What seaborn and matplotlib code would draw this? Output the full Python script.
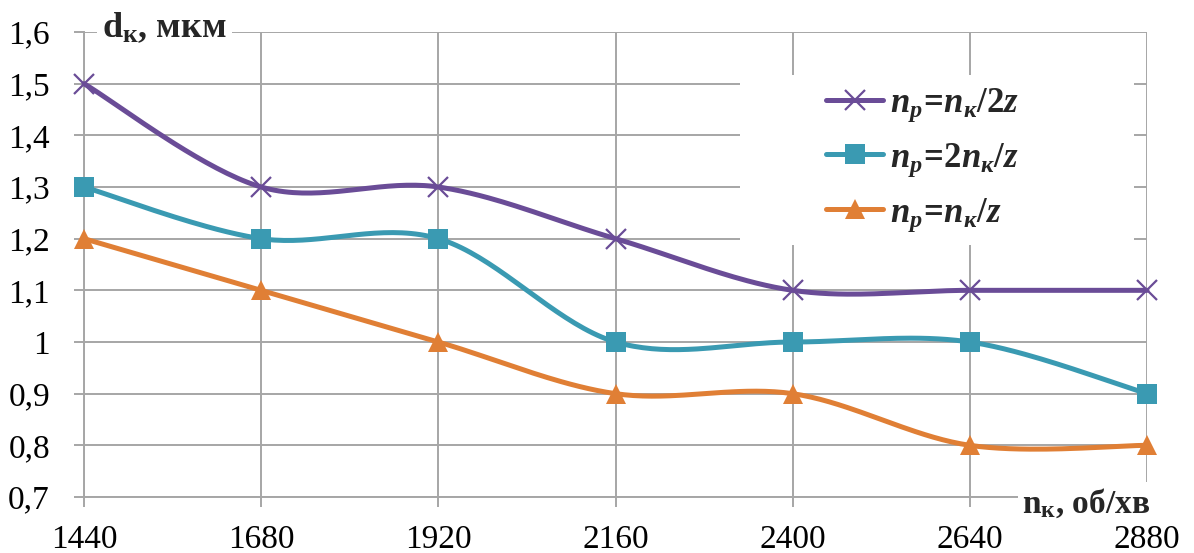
import numpy as np
import pandas as pd
import matplotlib
matplotlib.use("Agg")
import matplotlib.pyplot as plt
from matplotlib.lines import Line2D
from matplotlib.patches import Rectangle
import seaborn as sns

# ---- data ----
x_vals = [1440, 1680, 1920, 2160, 2400, 2640, 2880]
s_half = [1.5, 1.3, 1.3, 1.2, 1.1, 1.1, 1.1]     # n_p = n_k/2z
s_two = [1.3, 1.2, 1.2, 1.0, 1.0, 1.0, 0.9]      # n_p = 2n_k/z
s_one = [1.2, 1.1, 1.0, 0.9, 0.9, 0.8, 0.8]      # n_p = n_k/z
y_ticks = [0.7, 0.8, 0.9, 1.0, 1.1, 1.2, 1.3, 1.4, 1.5, 1.6]
y_tick_labels = ["0,7", "0,8", "0,9", "1", "1,1", "1,2", "1,3", "1,4", "1,5", "1,6"]
labels = [r"$n_p\!=\!n_к/2z$", r"$n_p\!=\!2n_к/z$", r"$n_p\!=\!n_к/z$"]

sns.set_theme(style="white")
plt.rcParams["font.family"] = ["Liberation Serif", "DejaVu Serif"]
plt.rcParams["font.serif"] = ["Liberation Serif", "DejaVu Serif"]
plt.rcParams["mathtext.fontset"] = "custom"
plt.rcParams["mathtext.it"] = "Liberation Serif:italic:bold"
plt.rcParams["mathtext.rm"] = "Liberation Serif:bold"
plt.rcParams["mathtext.bf"] = "Liberation Serif:bold"

colors = ["#6A4C97", "#3A9AB2", "#E07F35"]
markers = ["x", "s", "^"]
msizes = [15, 14.5, 14]
W, H = 1194, 553

def smooth(xs, ys, n=40):
    xs = np.asarray(xs, float); ys = np.asarray(ys, float)
    P = np.column_stack([xs, ys])
    out = []
    for i in range(len(P) - 1):
        p0 = P[i - 1] if i > 0 else P[i]
        p1 = P[i]; p2 = P[i + 1]
        p3 = P[i + 2] if i + 2 < len(P) else P[i + 1]
        c1 = p1 + (p2 - p0) / 6.0
        c2 = p2 - (p3 - p1) / 6.0
        t = np.linspace(0, 1, n)[:, None]
        seg = ((1 - t) ** 3) * p1 + 3 * ((1 - t) ** 2) * t * c1 + 3 * (1 - t) * t ** 2 * c2 + t ** 3 * p2
        out.append(seg if i == 0 else seg[1:])
    a = np.vstack(out)
    return a[:, 0], a[:, 1]

fig = plt.figure(figsize=(W / 100, H / 100), dpi=100)
ax = fig.add_axes([84 / W, 1 - 497 / H, (1147 - 84) / W, (497 - 32) / H])

series = [s_half, s_two, s_one]
for ys, c, m, ms in zip(series, colors, markers, msizes):
    sx, sy = smooth(x_vals, ys)
    ax.plot(sx, sy, color=c, lw=3.6, solid_capstyle="round", zorder=3, clip_on=False)
    df = pd.DataFrame({"x": x_vals, "y": ys})
    sns.lineplot(data=df, x="x", y="y", ax=ax, color=c, marker=m, markersize=ms,
                 linestyle="none", markeredgewidth=(1.6 if m == "x" else 0),
                 markeredgecolor=c, zorder=4, clip_on=False)

ax.set_xlim(1440, 2880)
ax.set_ylim(0.7, 1.6)
ax.set_xticks(x_vals)
ax.set_xticklabels([str(v) for v in x_vals], fontsize=24, fontfamily="Liberation Serif")
ax.set_yticks(y_ticks)
ax.set_yticklabels(y_tick_labels, fontsize=24, fontfamily="Liberation Serif")
ax.set_xlabel(""); ax.set_ylabel("")
ax.grid(True, color="#A6A6A6", lw=1.4)
for s in ["top", "right"]:
    ax.spines[s].set_visible(False)
for s in ["left", "bottom"]:
    ax.spines[s].set_color("#A6A6A6")
    ax.spines[s].set_linewidth(1.4)
ax.tick_params(axis="both", direction="out", length=7.5, width=1.4, color="#A6A6A6",
               colors="black", left=True, bottom=True)
ax.tick_params(axis="y", pad=17)
ax.tick_params(axis="x", pad=12)

# white legend area
fig.patches.append(Rectangle((740 / W, 1 - 245 / H), (1134 - 740) / W, (245 - 75) / H,
                             transform=fig.transFigure, facecolor="white",
                             edgecolor="none", zorder=2))
ax.set_zorder(1); ax.patch.set_alpha(0)
handles = [Line2D([0], [0], color=c, lw=3.6, marker=m, markersize=ms,
                  markeredgewidth=(1.6 if m == "x" else 0), markeredgecolor=c,
                  solid_capstyle="round")
           for c, m, ms in zip(colors, markers, msizes)]
leg = fig.legend(handles, labels, loc="center left",
                 bbox_to_anchor=(826 / W, 1 - 160 / H), bbox_transform=fig.transFigure,
                 fontsize=25, frameon=False, handlelength=1.65, handletextpad=0.2,
                 labelspacing=0.5, borderpad=0, borderaxespad=0)
leg.set_zorder(10)

fig.text(102 / W, 1 - 28 / H, r"$\mathbf{d_к}$, мкм", fontsize=26,
         fontweight="bold", va="center", ha="left",
         bbox=dict(facecolor="white", edgecolor="none", pad=4), zorder=10)
fig.text(1022 / W, 1 - 503 / H, r"$\mathbf{n_к}$, об/хв", fontsize=24,
         fontweight="bold", va="center", ha="left",
         bbox=dict(facecolor="white", edgecolor="none", pad=3), zorder=10)

fig.savefig("out.png", dpi=100, facecolor="white")
